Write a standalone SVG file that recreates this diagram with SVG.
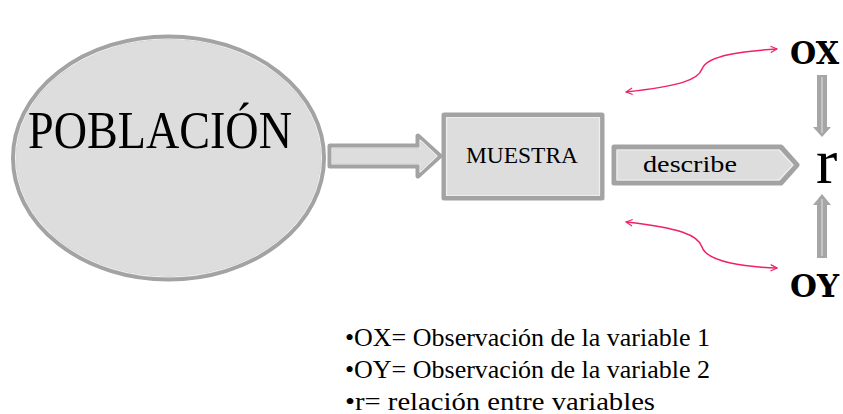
<svg xmlns="http://www.w3.org/2000/svg" width="843" height="414" viewBox="0 0 843 414">
<style>
.shape{fill:#dddddd;stroke:#a3a3a3;stroke-width:5;stroke-linejoin:round}
.inner{fill:none;stroke:#eeeeee;stroke-width:1.2;stroke-linejoin:round}
text{font-family:'Liberation Serif','DejaVu Serif',serif;fill:#000}
.bold{font-family:'DejaVu Serif','Liberation Serif',serif;font-weight:bold}
.pink{fill:none;stroke:#f0216a;stroke-width:1.5}
.varrow{fill:#a6a6a6}
.vline{stroke:#e4e4e4;stroke-width:1}
</style>
<defs>
<marker id="open" viewBox="0 0 10 10" refX="9" refY="5" markerWidth="8" markerHeight="8" orient="auto-start-reverse" markerUnits="userSpaceOnUse">
<path d="M1,1 L9,5 L1,9" fill="none" stroke="#f0216a" stroke-width="1.5"/>
</marker>
</defs>
<g id="poblacion">
<ellipse class="shape" cx="168.5" cy="158" rx="155" ry="121"/>
<ellipse class="inner" cx="168.5" cy="158" rx="153" ry="119"/>
<text x="28" y="148" font-size="53" textLength="264" lengthAdjust="spacingAndGlyphs">POBLACIÓN</text>
</g>
<g id="muestra">
<rect class="shape" x="444" y="115" width="158" height="83"/>
<rect class="inner" x="446.5" y="117.5" width="153" height="78"/>
<text x="466" y="163" font-size="24" textLength="112" lengthAdjust="spacingAndGlyphs">MUESTRA</text>
</g>
<g id="r">
<text x="816" y="183" font-size="64">r</text>
</g>
<g id="ox">
<text class="bold" x="790" y="64" font-size="32" textLength="49" lengthAdjust="spacingAndGlyphs">OX</text>
</g>
<g id="oy">
<text class="bold" x="790" y="297" font-size="32" textLength="49" lengthAdjust="spacingAndGlyphs">OY</text>
</g>
<g id="connectors">
<g id="arrow-poblacion-muestra">
<path class="shape" d="M330,146 L418,146 L418,136 L440,156 L418,176 L418,166 L330,166 Z" stroke-width="4"/>
<path class="inner" d="M332,148 L420,148 L420,140 L437,156 L420,172 L420,164 L332,164 Z"/>
</g>
<g id="arrow-describe">
<path class="shape" d="M614,147 L781,147 L797,165 L781,183 L614,183 Z" stroke-width="4"/>
<path class="inner" d="M617,150 L779,150 L793,165 L779,180 L617,180 Z"/>
<text x="643" y="172" font-size="23" textLength="94" lengthAdjust="spacingAndGlyphs">describe</text>
</g>
<g id="arrow-ox-r">
<path class="varrow" d="M817,75 L827,75 L827,127 L831,127 L822,137 L813,127 L817,127 Z"/>
<line class="vline" x1="822" y1="77" x2="822" y2="133"/>
</g>
<g id="arrow-oy-r">
<path class="varrow" d="M817,258 L827,258 L827,205 L831,205 L822,194 L813,205 L817,205 Z"/>
<line class="vline" x1="822" y1="256" x2="822" y2="199"/>
</g>
<path class="pink" d="M626,92 C680,86 698,80 702,69 C707,55 745,51 777,49" marker-start="url(#open)" marker-end="url(#open)"/>
<path class="pink" d="M626,222 C680,228 698,235 702,247 C707,262 745,267 777,268" marker-start="url(#open)" marker-end="url(#open)"/>
</g>
<g id="legend">
<text x="345" y="346" font-size="25" textLength="365" lengthAdjust="spacingAndGlyphs">•OX= Observación de la variable 1</text>
<text x="345" y="378" font-size="25" textLength="365" lengthAdjust="spacingAndGlyphs">•OY= Observación de la variable 2</text>
<text x="345" y="410" font-size="25" textLength="310" lengthAdjust="spacingAndGlyphs">•r= relación entre variables</text>
</g>
</svg>
